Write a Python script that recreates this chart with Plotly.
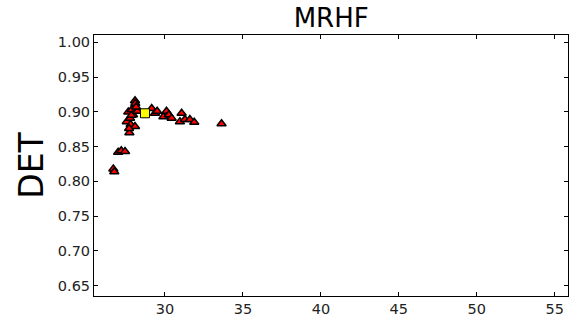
import plotly.graph_objects as go

# Red triangle points (x, DET)
tri_x = [26.69, 26.75, 27.00, 27.20, 27.44,
         27.55, 27.65, 27.72, 27.76, 27.80, 27.87, 27.95, 28.08, 28.10, 28.08, 28.23, 28.15, 27.70, 27.85,
         29.15, 29.36, 29.50, 29.90, 30.10, 30.25, 30.43, 30.96, 31.07, 31.28, 31.60, 31.88, 33.63]
tri_y = [0.818, 0.814, 0.842, 0.844, 0.843,
         0.886, 0.900, 0.870, 0.891, 0.882, 0.903, 0.896, 0.916, 0.912, 0.879, 0.901, 0.907, 0.876, 0.895,
         0.905, 0.898, 0.901, 0.893, 0.901, 0.896, 0.891, 0.886, 0.898, 0.889, 0.889, 0.885, 0.883]

# Yellow square point
sq_x = [28.72]
sq_y = [0.898]

x_ticks = [30, 35, 40, 45, 50, 55]
y_ticks = [0.65, 0.70, 0.75, 0.80, 0.85, 0.90, 0.95, 1.00]

fig = go.Figure()
fig.add_trace(go.Scatter(x=tri_x, y=tri_y, mode="markers",
                         marker=dict(symbol="triangle-up", size=8, color="red",
                                     line=dict(color="black", width=1.5)),
                         showlegend=False))
fig.add_trace(go.Scatter(x=sq_x, y=sq_y, mode="markers",
                         marker=dict(symbol="square", size=9, color="yellow",
                                     line=dict(color="black", width=1)),
                         showlegend=False))

axis_common = dict(showgrid=False, zeroline=False, showline=True, linecolor="black",
                   linewidth=1, mirror="allticks", ticks="inside", ticklen=4,
                   tickcolor="black", tickfont=dict(family="DejaVu Sans", size=14.5, color="#222"))

fig.update_layout(
    width=577, height=325,
    margin=dict(l=94, r=8, t=35, b=19),
    paper_bgcolor="white", plot_bgcolor="white",
    title=dict(text="MRHF", x=0.574, xanchor="center", y=0.945, yanchor="middle",
               font=dict(family="DejaVu Sans", size=26, color="black")),
    xaxis=dict(range=[25.45, 55.85], tickvals=x_ticks, **axis_common),
    yaxis=dict(range=[0.6352, 1.0106], tickvals=y_ticks, tickformat=".2f",
               title=dict(text="DET", font=dict(family="DejaVu Sans", size=33, color="black"),
                          standoff=4),
               **axis_common),
)

fig.write_html("out.html")
